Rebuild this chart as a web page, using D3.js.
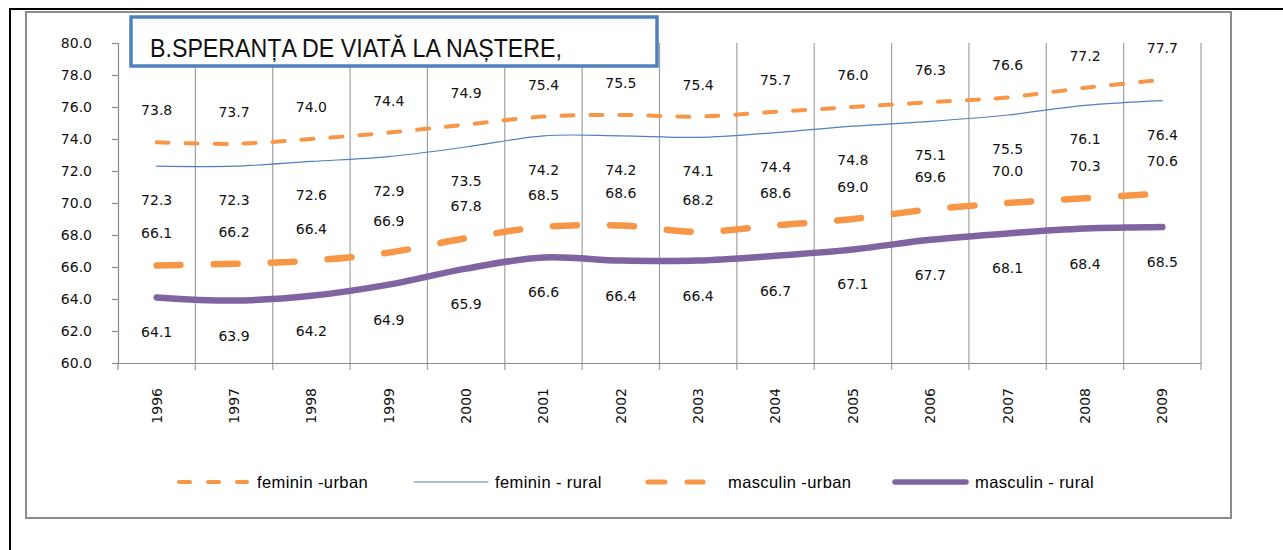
<!DOCTYPE html>
<html>
<head>
<meta charset="utf-8">
<script src="https://cdn.jsdelivr.net/npm/d3@7"></script>
<style>
  html, body { margin: 0; padding: 0; background: #fff; }
  svg { display: block; }
</style>
</head>
<body>
<svg id="chart" width="1283" height="550"></svg>
<script>
// ---- data ----
const years = ["1996","1997","1998","1999","2000","2001","2002","2003","2004","2005","2006","2007","2008","2009"];
const femininUrban  = [73.8, 73.7, 74.0, 74.4, 74.9, 75.4, 75.5, 75.4, 75.7, 76.0, 76.3, 76.6, 77.2, 77.7];
const femininRural  = [72.3, 72.3, 72.6, 72.9, 73.5, 74.2, 74.2, 74.1, 74.4, 74.8, 75.1, 75.5, 76.1, 76.4];
const masculinUrban = [66.1, 66.2, 66.4, 66.9, 67.8, 68.5, 68.6, 68.2, 68.6, 69.0, 69.6, 70.0, 70.3, 70.6];
const masculinRural = [64.1, 63.9, 64.2, 64.9, 65.9, 66.6, 66.4, 66.4, 66.7, 67.1, 67.7, 68.1, 68.4, 68.5];
const yTicks = [60, 62, 64, 66, 68, 70, 72, 74, 76, 78, 80];
const seriesNames = ["feminin -urban", "feminin -  rural", "masculin -urban", "masculin - rural"];
const titleText = "B.SPERANȚA DE VIATĂ LA NAȘTERE,";

(function () {
// ---- styles ----
const series = [
  { name: seriesNames[0], values: femininUrban,  color: "#F79646", width: 4,   dash: "12,17", labelDy: -32 },
  { name: seriesNames[1], values: femininRural,  color: "#4F81BD", width: 1.2, dash: null,    labelDy: 34 },
  { name: seriesNames[2], values: masculinUrban, color: "#F79646", width: 6.5, dash: "24,33", labelDy: -32 },
  { name: seriesNames[3], values: masculinRural, color: "#8064A2", width: 6.5, dash: null,    labelDy: 35 }
];

const svg = d3.select("#chart");
const font = "'DejaVu Sans', Verdana, sans-serif";

// outer black frame (top + left)
svg.append("line").attr("x1", 10).attr("x2", 1283).attr("y1", 9).attr("y2", 9)
  .attr("stroke", "#000").attr("stroke-width", 2);
svg.append("line").attr("x1", 10).attr("x2", 10).attr("y1", 8).attr("y2", 550)
  .attr("stroke", "#000").attr("stroke-width", 2);

// chart area gray border
svg.append("rect").attr("x", 26).attr("y", 12).attr("width", 1205).attr("height", 506)
  .attr("fill", "#fff").attr("stroke", "#8c8c8c").attr("stroke-width", 2);

const pLeft = 118, pRight = 1201, pTop = 43, pBottom = 363;
const x = d3.scaleBand().domain(years).range([pLeft, pRight]);
const y = d3.scaleLinear().domain([60, 80]).range([pBottom, pTop]);

// vertical gridlines at category boundaries (extend below axis as tick marks)
const bounds = d3.range(years.length + 1).map(i => pLeft + i * x.step());
svg.append("g").selectAll("line").data(bounds.slice(1)).join("line")
  .attr("x1", d => d).attr("x2", d => d)
  .attr("y1", pTop).attr("y2", pBottom + 7)
  .attr("stroke", "#a0a0a0").attr("stroke-width", 1.2);

// y axis
const yAxis = svg.append("g").attr("transform", `translate(${pLeft},0)`)
  .call(d3.axisLeft(y).tickValues(yTicks).tickFormat(d3.format(".1f")).tickSize(6).tickPadding(20));
yAxis.select(".domain").attr("stroke", "#8c8c8c").attr("stroke-width", 1.2);
yAxis.selectAll(".tick line").attr("stroke", "#8c8c8c").attr("stroke-width", 1.2);
yAxis.selectAll(".tick text").attr("font-family", font).attr("font-size", 14).attr("fill", "#111");

// x axis
const xAxis = svg.append("g").attr("transform", `translate(0,${pBottom})`)
  .call(d3.axisBottom(x).tickSize(0).tickPadding(0));
xAxis.select(".domain").attr("stroke", "#8c8c8c").attr("stroke-width", 1.2);
xAxis.selectAll(".tick text")
  .attr("font-family", font).attr("font-size", 14).attr("fill", "#111")
  .attr("transform", "rotate(-90)")
  .attr("text-anchor", "end")
  .attr("x", -25).attr("y", 0).attr("dy", "0.35em");
svg.append("line").attr("x1", pLeft).attr("x2", pLeft).attr("y1", pBottom).attr("y2", pBottom + 7)
  .attr("stroke", "#8c8c8c").attr("stroke-width", 1.2);

// lines
const line = d3.line()
  .x((d, i) => x(years[i]) + x.bandwidth() / 2)
  .y(d => y(d))
  .curve(d3.curveCatmullRom.alpha(0.5));

series.forEach(s => {
  svg.append("path").datum(s.values)
    .attr("d", line)
    .attr("fill", "none")
    .attr("stroke", s.color)
    .attr("stroke-width", s.width)
    .attr("stroke-linecap", "round")
    .attr("stroke-linejoin", "round")
    .attr("stroke-dasharray", s.dash);
});

// data labels
series.forEach(s => {
  svg.append("g").selectAll("text").data(s.values).join("text")
    .attr("x", (d, i) => x(years[i]) + x.bandwidth() / 2)
    .attr("y", d => y(d) + s.labelDy)
    .attr("dy", "0.35em")
    .attr("text-anchor", "middle")
    .attr("font-family", font).attr("font-size", 14).attr("fill", "#111")
    .text(d => d3.format(".1f")(d));
});

// title box
svg.append("rect").attr("x", 131).attr("y", 17).attr("width", 526).attr("height", 49)
  .attr("fill", "#fff").attr("stroke", "#4F81BD").attr("stroke-width", 3.5);
svg.append("text").attr("x", 150).attr("y", 57)
  .attr("font-family", "'Liberation Sans', Arial, sans-serif").attr("font-size", 25)
  .attr("textLength", 412).attr("lengthAdjust", "spacingAndGlyphs")
  .attr("fill", "#111").text(titleText);

// legend
const legendY = 482;
const legendItems = [
  { x1: 179, x2: 247, tx: 257, dash: "11,18", w: 4 },
  { x1: 414, x2: 488, tx: 495, dash: null,    w: 1.2 },
  { x1: 648, x2: 703, tx: 728, dash: "17,22", w: 5 },
  { x1: 895, x2: 966, tx: 975, dash: null,    w: 5.5 }
];
series.forEach((s, i) => {
  const li = legendItems[i];
  svg.append("line").attr("x1", li.x1).attr("x2", li.x2)
    .attr("y1", legendY).attr("y2", legendY)
    .attr("stroke", s.color)
    .attr("stroke-width", li.w)
    .attr("stroke-linecap", "round")
    .attr("stroke-dasharray", li.dash);
  svg.append("text").attr("x", li.tx).attr("y", legendY).attr("dy", "0.35em")
    .attr("font-family", "'Liberation Sans', Arial, sans-serif").attr("font-size", 16.5)
    .attr("letter-spacing", 0.4)
    .attr("fill", "#000")
    .text(s.name);
});
})();
</script>
</body>
</html>
